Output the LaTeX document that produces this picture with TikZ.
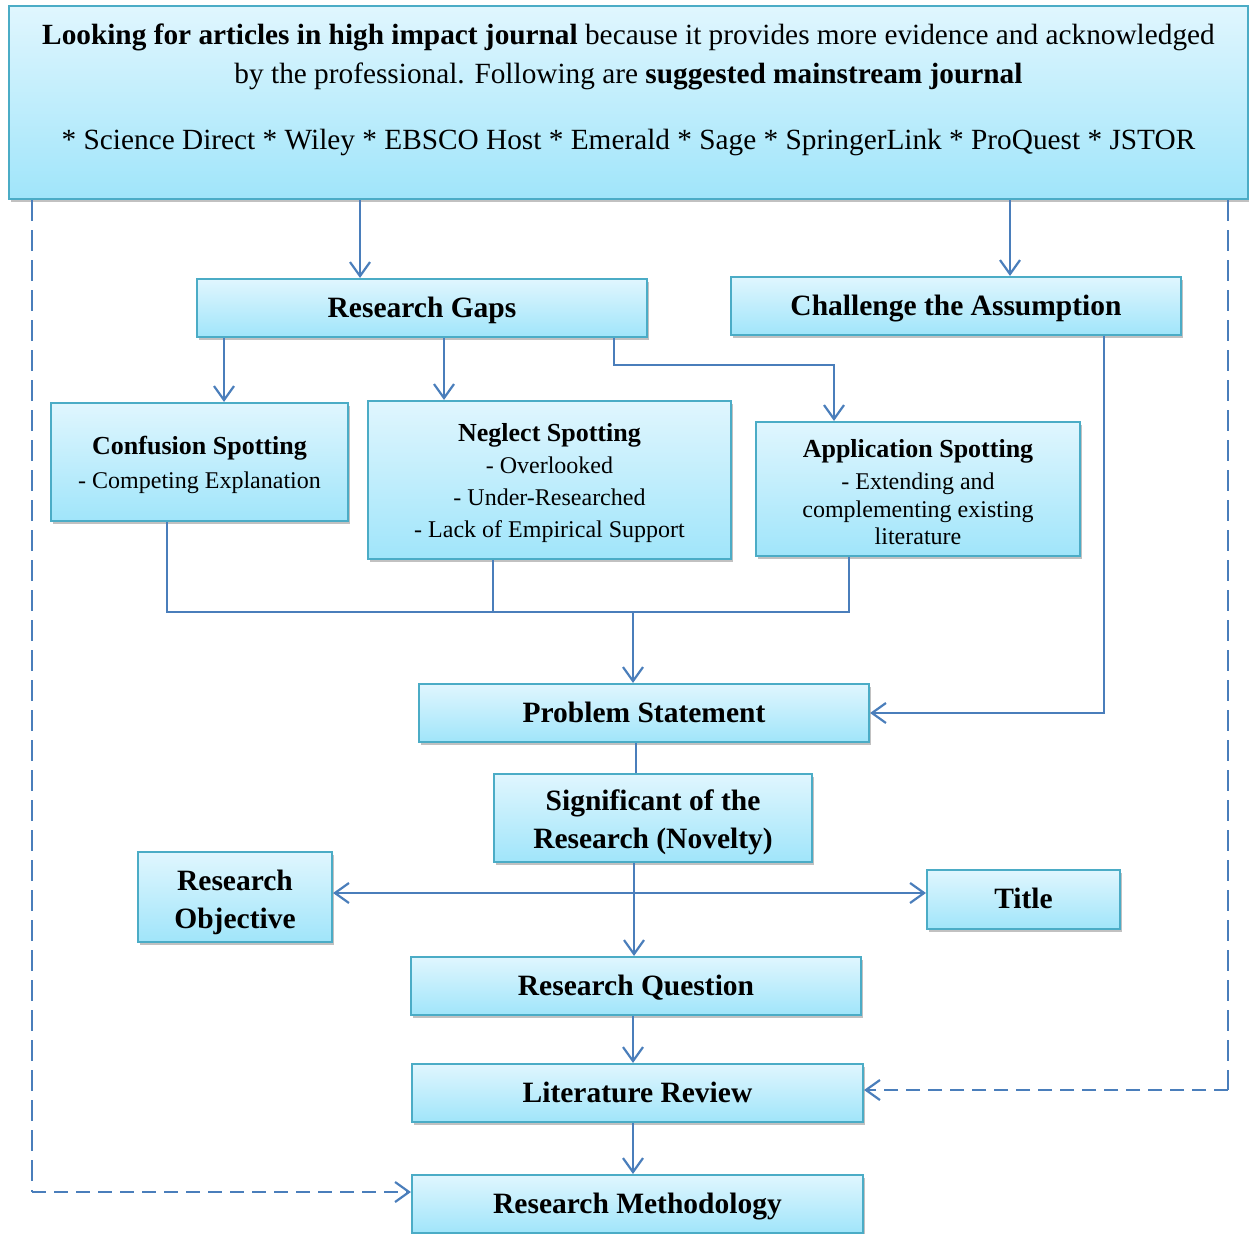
\documentclass[tikz,border=0pt]{standalone}
\usepackage{fontspec}
\setmainfont{Liberation Serif}
\usetikzlibrary{arrows.meta,shadows}
\definecolor{boxtop}{HTML}{E0F6FE}
\definecolor{boxbot}{HTML}{A0E5FA}
\definecolor{boxline}{HTML}{4BACC6}
\definecolor{arrcol}{HTML}{4A7EBB}
\begin{document}
\begin{tikzpicture}[x=1pt,y=-1pt,
  box/.style={draw=boxline,line width=2.1pt,top color=boxtop,bottom color=boxbot,
    inner sep=0pt,align=center,
    drop shadow={shadow xshift=2pt,shadow yshift=-3pt,opacity=0.35,fill=black!70}},
  bigtxt/.style={font=\fontsize{29.5}{38}\selectfont\bfseries,text height=22pt,text depth=4pt},
  txt/.style={inner sep=0pt,align=center},
  conn/.style={draw=arrcol,line width=2.2pt},
  tip/.style={-{Straight Barb[length=14pt,width=20pt,line width=2.2pt]}},
  dtip/.style={{Straight Barb[length=14pt,width=20pt,line width=2.2pt]}-{Straight Barb[length=14pt,width=20pt,line width=2.2pt]}},
  dashv/.style={dash pattern=on 21pt off 9pt},
  dashh/.style={dash pattern=on 14pt off 8pt}]
\useasboundingbox (0,0) rectangle (1249,1233);

% boxes
\node[box,minimum width=1239pt,minimum height=193pt] (top) at (628.5,102.5) {};
\node[txt,font=\fontsize{29.3}{39}\selectfont] (toptext) at (628.5,90)
 {\textbf{Looking for articles in high impact journal} because it provides more evidence and acknowledged\\
  by the professional. Following are \textbf{suggested mainstream journal}\\[27pt]
  * Science Direct * Wiley * EBSCO Host * Emerald * Sage * SpringerLink * ProQuest * JSTOR};

\node[box,bigtxt,minimum width=450pt,minimum height=58pt] (rg) at (422,308) {Research Gaps};
\node[box,bigtxt,minimum width=450pt,minimum height=58pt] (ca) at (956,306) {Challenge the Assumption};

\node[box,minimum width=297pt,minimum height=118pt] (cs) at (199.5,462) {};
\node[txt,font=\fontsize{24}{34}\selectfont] (cs-t) at (199.5,465)
 {{\fontsize{26}{34}\selectfont\bfseries Confusion Spotting}\\- Competing Explanation};
\node[box,minimum width=363pt,minimum height=158pt] (ns) at (549.5,480) {};
\node[txt,font=\fontsize{24}{32.3}\selectfont] (ns-t) at (549.5,483)
 {{\fontsize{26}{32.3}\selectfont\bfseries Neglect Spotting}\\- Overlooked\\- Under-Researched\\- Lack of Empirical Support};
\node[box,minimum width=324pt,minimum height=134pt] (as) at (918,489) {};
\node[txt,font=\fontsize{24}{27.5}\selectfont] (as-t) at (918,492)
 {{\fontsize{26}{27.5}\selectfont\bfseries Application Spotting}\\[5pt]- Extending and\\complementing existing\\literature};

\node[box,bigtxt,minimum width=450pt,minimum height=58pt] (ps) at (644,713) {Problem Statement};
\node[box,minimum width=318pt,minimum height=88pt] (sig) at (653,818) {};
\node[txt,font=\fontsize{29.5}{38}\selectfont\bfseries] (sig-t) at (653,822) {Significant of the\\Research (Novelty)};
\node[box,minimum width=194pt,minimum height=90pt] (ro) at (235,897) {};
\node[txt,font=\fontsize{29.5}{38}\selectfont\bfseries] (ro-t) at (235,902) {Research\\Objective};
\node[box,bigtxt,minimum width=193pt,minimum height=59pt] (ti) at (1023.5,899.5) {Title};
\node[box,bigtxt,minimum width=450pt,minimum height=58pt] (rq) at (636,986) {Research Question};
\node[box,bigtxt,minimum width=451pt,minimum height=58pt] (lr) at (637.5,1093) {Literature Review};
\node[box,bigtxt,minimum width=451pt,minimum height=58pt] (rm) at (637.5,1204) {Research Methodology};

% helper coordinates
\coordinate (x32) at (32,0);
\coordinate (x1228) at (1228,0);
\coordinate (x360) at (360,0);
\coordinate (x1010) at (1010,0);
\coordinate (x224) at (224,0);
\coordinate (x444) at (444,0);
\coordinate (x614) at (614,0);
\coordinate (x834) at (834,0);
\coordinate (x1104) at (1104,0);
\coordinate (x167) at (167,0);
\coordinate (x493) at (493,0);
\coordinate (x849) at (849,0);
\coordinate (x633) at (633,0);
\coordinate (x636) at (636,0);
\coordinate (x634) at (634,0);
\coordinate (b1) at (614,365);
\coordinate (b2) at (834,365);
\coordinate (jl) at (167,612);
\coordinate (jr) at (849,612);
\coordinate (jm) at (493,612);
\coordinate (jc) at (633,612);
\coordinate (yh) at (0,893);
\coordinate (dl) at (32,1192);
\coordinate (dr) at (1228,1090);

% connectors
\draw[conn,tip] (top.south -| x360) -- (rg.north -| x360);
\draw[conn,tip] (top.south -| x1010) -- (ca.north -| x1010);
\draw[conn,tip] (rg.south -| x224) -- (cs.north -| x224);
\draw[conn,tip] (rg.south -| x444) -- (ns.north -| x444);
\draw[conn,tip] (rg.south -| x614) -- (b1) -- (b2) -- (as.north -| x834);
\draw[conn,tip] (ca.south -| x1104) |- (ps.east);
\draw[conn] (cs.south -| x167) -- (jl) -- (jr) -- (as.south -| x849);
\draw[conn] (ns.south -| x493) -- (jm);
\draw[conn,tip] (jc) -- (ps.north -| x633);
\draw[conn] (ps.south -| x636) -- (sig.north -| x636);
\draw[conn,tip] (sig.south -| x634) -- (rq.north -| x634);
\draw[conn,dtip] (ro.east |- yh) -- (ti.west |- yh);
\draw[conn,tip] (rq.south -| x633) -- (lr.north -| x633);
\draw[conn,tip] (lr.south -| x633) -- (rm.north -| x633);
\draw[conn,dashv] (top.south -| x32) -- (dl);
\draw[conn,dashh,tip] (dl) -- (rm.west |- dl);
\draw[conn,dashv] (top.south -| x1228) -- (dr);
\draw[conn,dashh,tip] (dr) -- (lr.east |- dr);
\end{tikzpicture}
\end{document}
